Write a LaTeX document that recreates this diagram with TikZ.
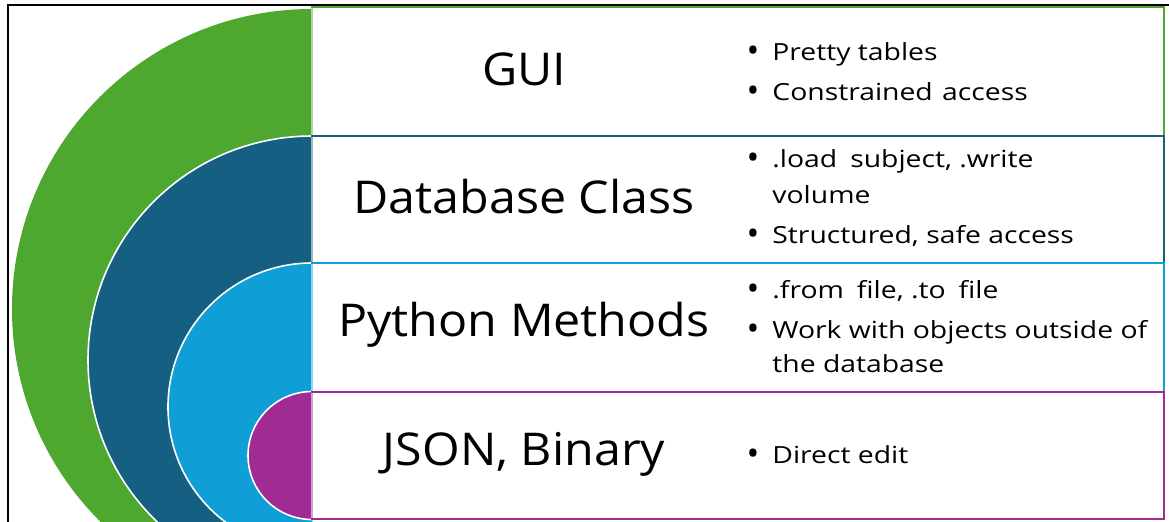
\documentclass[tikz,border=0pt]{standalone}
\usepackage{fontspec}
\setmainfont{Open Sans}
\newfontfamily\titlefont[FakeStretch=1.07]{Open Sans}
\newfontfamily\pointfont[FakeStretch=1.20]{Open Sans}
\definecolor{lyrgreen}{HTML}{4EA72E}
\definecolor{lyrnavy}{HTML}{156082}
\definecolor{lyrsky}{HTML}{0F9ED5}
\definecolor{lyrplum}{HTML}{A02B93}
\begin{document}
\begin{tikzpicture}[x=0.5pt,y=-0.5pt,
  band/.style={fill=#1, draw=white, line width=0.8pt},
  tier/.style={draw=#1, fill=white, line width=1pt},
  tieredge/.style={draw=#1!45!white, line width=0.6pt},
  title/.style={font=\titlefont\fontsize{22.6}{26}\selectfont, anchor=center, inner sep=0pt},
  point/.style={font=\pointfont\fontsize{11.8}{14}\selectfont, anchor=base west, inner sep=0pt},
  dot/.style={font=\fontsize{17}{14}\selectfont, anchor=base, inner sep=0pt},
]
\useasboundingbox (0,0) rectangle (1169,521);
\clip (0,0) rectangle (1169,521);
\fill[white] (0,0) rectangle (1169,521);

% outer frame
\draw[line width=1pt] (8,560) -- (8,5) -- (1200,5);

% nested half-discs, left halves only
\begin{scope}
  \clip (0,0) rectangle (312,521);
  \fill[lyrgreen] (312,309) circle[radius=150pt];
  \draw[band=lyrnavy] (312,360) circle[radius=112pt];
  \draw[band=lyrsky] (312,407) circle[radius=72pt];
  \draw[band=lyrplum] (312,455.5) circle[radius=32pt];
\end{scope}

% layer boxes
\draw[tier=lyrgreen] (312,7) rectangle (1164,136);
\draw[tieredge=lyrgreen] (312,8) -- (312,135);
\draw[tier=lyrnavy] (312,136) rectangle (1164,263);
\draw[tieredge=lyrnavy] (312,137) -- (312,262);
\draw[tier=lyrsky] (312,263) rectangle (1164,392);
\draw[tieredge=lyrsky] (312,264) -- (312,391);
\draw[tier=lyrplum] (312,392) rectangle (1164,519);
\draw[tieredge=lyrplum] (312,393) -- (312,518);

% layer titles
\node[title] (gui) at (524,69) {GUI};
\node[title] (dbc) at (524,197) {Database Class};
\node[title] (pym) at (524,325) {Python Methods};
\node[title] (jsb) at (524,454) {JSON, Binary};

% bullet points
\node[dot] (d1a) at (753,62) {•};
\node[point] (p1a) at (772,60) {Pretty tables};
\node[dot] (d1b) at (753,102) {•};
\node[point] (p1b) at (772,100) {Constrained\hspace{0.4em}access};

\node[dot] (d2a) at (753,169) {•};
\node[point] (p2a) at (772,167) {.load\hspace{0.55em}subject, .write};
\node[point] (p2b) at (772,203) {volume};
\node[dot] (d2c) at (753,245) {•};
\node[point] (p2c) at (772,243) {Structured, safe access};

\node[dot] (d3a) at (753,300) {•};
\node[point] (p3a) at (772,298) {.from\hspace{0.55em}file, .to\hspace{0.55em}file};
\node[dot] (d3b) at (753,340) {•};
\node[point] (p3b) at (772,338) {Work with objects outside of};
\node[point] (p3c) at (772,372) {the database};

\node[dot] (d4a) at (753,465) {•};
\node[point] (p4a) at (772,463) {Direct edit};
\end{tikzpicture}
\end{document}
